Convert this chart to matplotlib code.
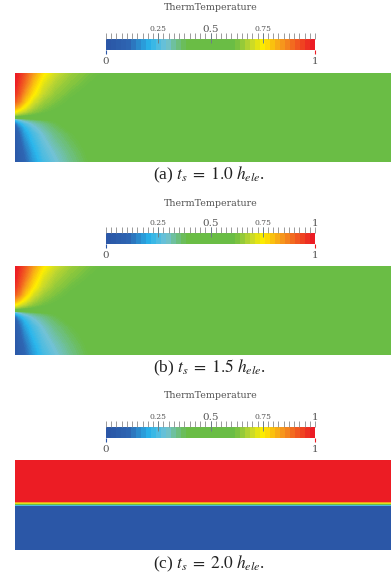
import numpy as np
import matplotlib
matplotlib.use("Agg")
import matplotlib.pyplot as plt
from matplotlib.colors import LinearSegmentedColormap, ListedColormap

# ---- data -----------------------------------------------------------------
captions = [r"(a) $t_s\;=\;1.0\;h_{ele}$.",
            r"(b) $t_s\;=\;1.5\;h_{ele}$.",
            r"(c) $t_s\;=\;2.0\;h_{ele}$."]
bar_title = "ThermTemperature"
major_ticks = [0.25, 0.5, 0.75]
major_labels = ["0.25", "0.5", "0.75"]

# sample positions of the temperature field (x from the left edge, y from the
# mid-height singular point, in element-size units)
x_cols = [0, 4, 10, 18, 28, 40, 55, 75, 100, 140, 376]
y_rows = [44.5, 34, 24, 16, 10, 6, 3, 1, 0, -1, -3, -6, -10, -16, -24, -34, -44.5]

# temperatures at (y_rows x x_cols), ts = 1.0 h_ele
temps_a = [
    [1.00, 0.98, 0.93, 0.85, 0.77, 0.71, 0.665, 0.63, 0.60, 0.55, 0.50],
    [1.00, 0.96, 0.90, 0.81, 0.73, 0.68, 0.645, 0.615, 0.59, 0.545, 0.50],
    [0.97, 0.93, 0.85, 0.77, 0.70, 0.655, 0.625, 0.60, 0.575, 0.54, 0.50],
    [0.92, 0.88, 0.80, 0.72, 0.665, 0.635, 0.61, 0.59, 0.565, 0.535, 0.50],
    [0.84, 0.80, 0.74, 0.68, 0.64, 0.62, 0.60, 0.58, 0.56, 0.53, 0.50],
    [0.76, 0.73, 0.69, 0.65, 0.625, 0.605, 0.59, 0.57, 0.55, 0.525, 0.50],
    [0.68, 0.66, 0.64, 0.62, 0.605, 0.59, 0.575, 0.56, 0.54, 0.52, 0.50],
    [0.60, 0.59, 0.58, 0.57, 0.565, 0.56, 0.55, 0.54, 0.53, 0.515, 0.50],
    [0.50, 0.50, 0.50, 0.50, 0.50, 0.50, 0.50, 0.50, 0.50, 0.50, 0.50],
    [0.28, 0.33, 0.37, 0.39, 0.41, 0.42, 0.435, 0.45, 0.47, 0.49, 0.50],
    [0.19, 0.24, 0.29, 0.33, 0.36, 0.385, 0.415, 0.44, 0.465, 0.49, 0.50],
    [0.10, 0.17, 0.24, 0.29, 0.33, 0.37, 0.405, 0.435, 0.46, 0.485, 0.50],
    [0.05, 0.12, 0.20, 0.26, 0.31, 0.355, 0.395, 0.425, 0.455, 0.485, 0.50],
    [0.02, 0.09, 0.17, 0.23, 0.285, 0.335, 0.375, 0.415, 0.45, 0.48, 0.50],
    [0.01, 0.07, 0.14, 0.21, 0.265, 0.315, 0.36, 0.405, 0.44, 0.48, 0.50],
    [0.00, 0.05, 0.11, 0.18, 0.245, 0.29, 0.34, 0.395, 0.435, 0.475, 0.50],
    [0.00, 0.04, 0.09, 0.16, 0.225, 0.27, 0.325, 0.385, 0.425, 0.47, 0.50],
]
# ts = 1.5 h_ele gives the same field
temps_b = temps_a

# ts = 2.0 h_ele: field is uniform along x, profile over depth (from top)
depth_c = [0, 41.5, 42.5, 43.5, 44.5, 45.5, 46.5, 90]
temps_c = [1.0, 1.0, 0.85, 0.72, 0.5, 0.24, 0.0, 0.0]

# colour map of the temperature scale
cmap_stops = [0.0, 0.10, 0.20, 0.28, 0.38, 0.62, 0.70, 0.76, 0.86, 1.0]
cmap_colors = ["#2B57A7", "#2E66B3", "#29B6EC", "#72C2D6", "#6ABD45",
               "#6ABD45", "#C4D82E", "#FFEE00", "#F6921E", "#EC1C24"]

# ---- layout (pixels) ------------------------------------------------------
W, H = 391, 579
fig = plt.figure(figsize=(W / 100, H / 100), dpi=100)
fig.patch.set_facecolor("white")


def box(x0, y0, x1, y1):
    return [x0 / W, 1 - y1 / H, (x1 - x0) / W, (y1 - y0) / H]


def fx(x):
    return x / W


def fy(y):
    return 1 - y / H


cmap = LinearSegmentedColormap.from_list(
    "therm", list(zip(cmap_stops, cmap_colors)), N=256)
cmap_bands = ListedColormap(cmap(np.linspace(0, 1, 42)))

title_y = [8, 203, 396]
bar_top = [39, 233, 427]
field_top = [73, 266, 460]
field_bot = [162, 355, 550]
caption_y = [175, 368, 564]
bar_x0, bar_x1 = 106, 315
bar_h = 11
label_color = "#555555"
tick_color = "#8a8a8a"

for i in range(3):
    # title of the scale bar
    fig.text(fx(211), fy(title_y[i]), bar_title, ha="center", va="center",
             fontsize=6.8, family="DejaVu Serif", color=label_color)

    # scale bar
    bax = fig.add_axes(box(bar_x0, bar_top[i], bar_x1, bar_top[i] + bar_h))
    grad = np.linspace(0, 1, 420).reshape(1, -1)
    bax.imshow(grad, aspect="auto", cmap=cmap_bands, extent=[0, 1, 0, 1],
               interpolation="nearest")
    bax.set_xlim(0, 1)
    bax.set_ylim(0, 1)
    bax.axis("off")
    px = 1.0 / bar_h
    minor = np.linspace(0, 1, 41)
    bax.vlines(minor, 1, 1 + 6 * px, color=tick_color, lw=0.6, clip_on=False)
    bax.vlines(major_ticks, 1 - 4 * px, 1 + 6 * px, color="#6d7f86", lw=0.7,
               clip_on=False)
    bax.vlines([0], -4 * px, 0, color="#2B57A7", lw=0.8, clip_on=False)
    bax.vlines([1], -4 * px, 0, color="#EC1C24", lw=0.8, clip_on=False)
    for t, lab in zip(major_ticks, major_labels):
        fs = 7.5 if lab == "0.5" else 5.5
        bax.text(t, 1 + 10 * px, lab, ha="center", va="center", fontsize=fs,
                 family="DejaVu Serif", color=label_color, clip_on=False)
    if i > 0:
        bax.text(1, 1 + 10 * px, "1", ha="center", va="center", fontsize=7.5,
                 family="DejaVu Serif", color=label_color, clip_on=False)
    bax.text(0, -12 * px, "0", ha="center", va="center", fontsize=7.5,
             family="DejaVu Serif", color=label_color, clip_on=False)
    bax.text(1, -12 * px, "1", ha="center", va="center", fontsize=7.5,
             family="DejaVu Serif", color=label_color, clip_on=False)

    # temperature field
    fax = fig.add_axes(box(15, field_top[i], 391, field_bot[i]))
    levels = np.linspace(0, 1, 161)
    if i < 2:
        Z = np.array(temps_a if i == 0 else temps_b)
        X, Y = np.meshgrid(x_cols, y_rows)
        fax.contourf(X, Y, Z, levels=levels, cmap=cmap, vmin=0, vmax=1)
        fax.set_ylim(-44.5, 44.5)
    else:
        Z = np.tile(np.array(temps_c)[:, None], (1, 2))
        X, Y = np.meshgrid([0, 376], depth_c)
        fax.contourf(X, Y, Z, levels=levels, cmap=cmap, vmin=0, vmax=1)
        fax.set_ylim(90, 0)
    fax.set_xlim(0, 376)
    fax.axis("off")

    # caption
    fig.text(fx(209), fy(caption_y[i]), captions[i], ha="center", va="center",
             fontsize=12.5, family="Liberation Serif", color="#222222",
             math_fontfamily="stix")

fig.savefig("out.png", dpi=100, facecolor="white")
